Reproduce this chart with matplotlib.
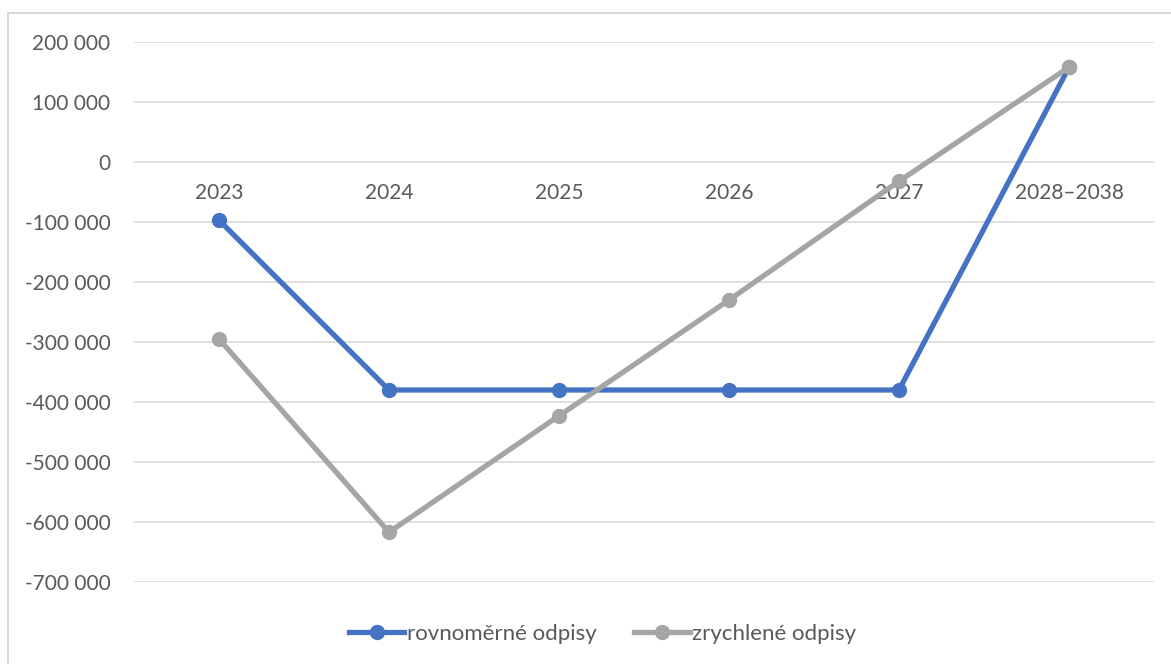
import matplotlib
matplotlib.use("Agg")
import matplotlib.pyplot as plt
from matplotlib.lines import Line2D
from matplotlib.ticker import FuncFormatter

categories = ["2023", "2024", "2025", "2026", "2027", "2028–2038"]
rovnomerne = [-97000, -380000, -380000, -380000, -380000, 158000]
zrychlene = [-295000, -617000, -423000, -230000, -32000, 158000]
series_names = ["rovnoměrné odpisy", "zrychlené odpisy"]
yticks = list(range(-700000, 200001, 100000))

plt.rcParams['font.family'] = ['Lato', 'DejaVu Sans']
W, H = 1171, 664
fig = plt.figure(figsize=(W / 100, H / 100), dpi=100)
ax = fig.add_axes([134 / W, 1 - 582 / H, (1154 - 134) / W, (582 - 42) / H])

x = list(range(len(categories)))
blue = "#4472C4"
gray = "#A5A5A5"
ax.plot(x, rovnomerne, color=blue, lw=3.8, marker="o", ms=10, label=series_names[0], zorder=3)
ax.plot(x, zrychlene, color=gray, lw=3.8, marker="o", ms=10, label=series_names[1], zorder=3)

ax.set_xlim(-0.5, len(categories) - 0.5)
ax.set_ylim(-700000, 200000)
ax.set_yticks(yticks)
ax.yaxis.set_major_formatter(FuncFormatter(lambda v, p: f"{int(v):,}".replace(",", " ")))
ax.tick_params(axis="y", length=0, pad=17, labelsize=15, labelcolor="#595959")
ax.set_xticks([])
ax.grid(axis="y", color="#D9D9D9", lw=1.2, zorder=0)
for s in ax.spines.values():
    s.set_visible(False)

for i, c in enumerate(categories):
    ax.annotate(c, (i, 0), xytext=(0, -31), textcoords="offset pixels",
                ha="center", va="center", fontsize=15, color="#595959", zorder=2)

# chart border
fig.add_artist(Line2D([8 / W, 8 / W], [0, 1 - 13 / H], color="#D9D9D9", lw=1.5, transform=fig.transFigure))
fig.add_artist(Line2D([8 / W, 1], [1 - 13 / H, 1 - 13 / H], color="#D9D9D9", lw=1.5, transform=fig.transFigure))

fig.legend(loc="center", bbox_to_anchor=(0.5145, 1 - 634 / H), ncol=2, frameon=False,
           fontsize=16, labelcolor="#595959", handlelength=2.5, handletextpad=0.1,
           columnspacing=1.7)

fig.savefig("out.png", dpi=100, facecolor="white")
